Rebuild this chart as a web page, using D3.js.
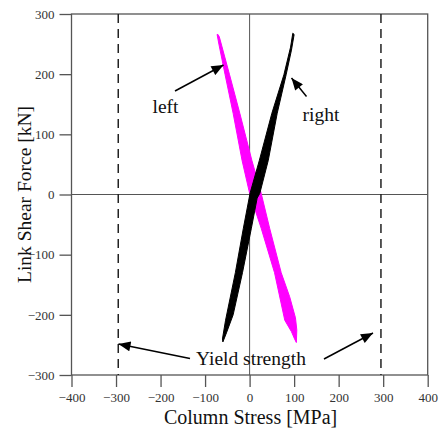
<!DOCTYPE html>
<html>
<head>
<meta charset="utf-8">
<script src="https://cdn.jsdelivr.net/npm/d3@7"></script>
<style>
  body { margin: 0; background: #fff; }
  svg { display: block; font-family: "Liberation Serif", "Times New Roman", serif; }
</style>
</head>
<body>
<div id="chart"></div>
<script>
// Column stress [MPa] vs link shear force [kN], traced outline of each response band.
// right column: loading branch up, unloading branch down
var rightLoop = [
  [-60, -245], [-52, -230], [-37, -200], [-16, -130], [4, -56], [17, -6], [23, 2],
  [42, 57], [62, 135], [82, 199], [94, 240], [100, 266],
  [97, 268], [92, 245], [77, 199], [50, 135], [22, 57], [1, 2],
  [-14, -56], [-32, -130], [-54, -209], [-61, -240]
];
// left column
var leftLoop = [
  [-71, 266], [-68, 262], [-45, 199], [-22, 135], [5, 57], [26, 2], [45, -56],
  [71, -130], [90, -170], [103, -205], [106, -225], [105, -246],
  [101, -240], [94, -228], [79, -209], [56, -130], [26, -56], [0, 2], [-17, 57],
  [-37, 135], [-55, 199], [-69, 250], [-73, 266]
];
var yieldStress = [-295, 295];
var xTicks = [-400, -300, -200, -100, 0, 100, 200, 300, 400];
var yTicks = [-300, -200, -100, 0, 100, 200, 300];

var width = 443, height = 432;
var margin = {left: 71.5, right: 15.3, top: 14, bottom: 57};

var svg = d3.select('#chart').append('svg')
  .attr('width', width)
  .attr('height', height);

var x = d3.scaleLinear().domain([-400, 400]).range([margin.left, width - margin.right]);
var y = d3.scaleLinear().domain([-300, 300]).range([height - margin.bottom, margin.top]);

var axisColor = '#555';

// Frame
svg.append('rect')
  .attr('x', x(-400)).attr('y', y(300))
  .attr('width', x(400) - x(-400)).attr('height', y(-300) - y(300))
  .attr('fill', 'none').attr('stroke', axisColor).attr('stroke-width', 1.3);

// Zero lines
svg.append('line')
  .attr('x1', x(0)).attr('x2', x(0)).attr('y1', y(300)).attr('y2', y(-300))
  .attr('stroke', axisColor).attr('stroke-width', 1);
svg.append('line')
  .attr('x1', x(-400)).attr('x2', x(400)).attr('y1', y(0)).attr('y2', y(0))
  .attr('stroke', axisColor).attr('stroke-width', 1);

// Axes
var xAxis = svg.append('g')
  .attr('transform', 'translate(0,' + y(-300) + ')')
  .call(d3.axisBottom(x).tickValues(xTicks).tickSize(12).tickSizeOuter(0).tickPadding(6));
var yAxis = svg.append('g')
  .attr('transform', 'translate(' + x(-400) + ',0)')
  .call(d3.axisLeft(y).tickValues(yTicks).tickSize(12).tickSizeOuter(0).tickPadding(5));

[xAxis, yAxis].forEach(function(ax) {
  ax.select('.domain').remove();
  ax.selectAll('line').attr('stroke', axisColor).attr('stroke-width', 1.3);
  ax.selectAll('text')
    .attr('fill', '#333')
    .attr('font-family', '"Liberation Serif", serif')
    .attr('font-size', 13);
});

// Yield strength lines
svg.selectAll('line.yield')
  .data(yieldStress)
  .enter()
    .append('line')
      .attr('class', 'yield')
      .attr('x1', function(d) { return x(d); })
      .attr('x2', function(d) { return x(d); })
      .attr('y1', y(300)).attr('y2', y(-300))
      .attr('stroke', '#222')
      .attr('stroke-width', 1.5)
      .attr('stroke-dasharray', '9,6');

// Response bands
var line = d3.line()
  .x(function(d) { return x(d[0]); })
  .y(function(d) { return y(d[1]); })
  .curve(d3.curveLinearClosed);

svg.append('path')
  .attr('d', line(leftLoop))
  .attr('fill', '#ff00ff').attr('stroke', '#ff00ff')
  .attr('stroke-width', 1).attr('stroke-linejoin', 'round');

svg.append('path')
  .attr('d', line(rightLoop))
  .attr('fill', '#000').attr('stroke', '#000')
  .attr('stroke-width', 1).attr('stroke-linejoin', 'round');

// Arrows
svg.append('defs').append('marker')
  .attr('id', 'head')
  .attr('viewBox', '0 0 12 10')
  .attr('refX', 12).attr('refY', 5)
  .attr('markerWidth', 13).attr('markerHeight', 10)
  .attr('markerUnits', 'userSpaceOnUse')
  .attr('orient', 'auto')
  .append('path')
    .attr('d', 'M0,0L12,5L0,10Z')
    .attr('fill', '#000');

var arrows = [
  [175, 91, 223.5, 65],
  [306.5, 96.5, 291.5, 78],
  [190, 358.5, 118.5, 344],
  [324, 359, 373, 333]
];
svg.selectAll('line.arrow')
  .data(arrows)
  .enter()
    .append('line')
      .attr('class', 'arrow')
      .attr('x1', function(d) { return d[0]; })
      .attr('y1', function(d) { return d[1]; })
      .attr('x2', function(d) { return d[2]; })
      .attr('y2', function(d) { return d[3]; })
      .attr('stroke', '#000')
      .attr('stroke-width', 1.5)
      .attr('marker-end', 'url(#head)');

// Labels
var notes = [
  {text: 'left', x: 152.5, y: 113},
  {text: 'right', x: 302.5, y: 121},
  {text: 'Yield strength', x: 196, y: 365}
];
svg.selectAll('text.note')
  .data(notes)
  .enter()
    .append('text')
      .attr('class', 'note')
      .attr('x', function(d) { return d.x; })
      .attr('y', function(d) { return d.y; })
      .attr('font-size', 19.5)
      .attr('fill', '#111')
      .text(function(d) { return d.text; });

svg.append('text')
  .attr('x', x(0) + 1)
  .attr('y', 424)
  .attr('text-anchor', 'middle')
  .attr('font-size', 20)
  .attr('fill', '#111')
  .text('Column Stress [MPa]');

svg.append('text')
  .attr('transform', 'translate(31,' + y(0) + ') rotate(-90)')
  .attr('text-anchor', 'middle')
  .attr('font-size', 19.5)
  .attr('fill', '#111')
  .text('Link Shear Force [kN]');
</script>
</body>
</html>
